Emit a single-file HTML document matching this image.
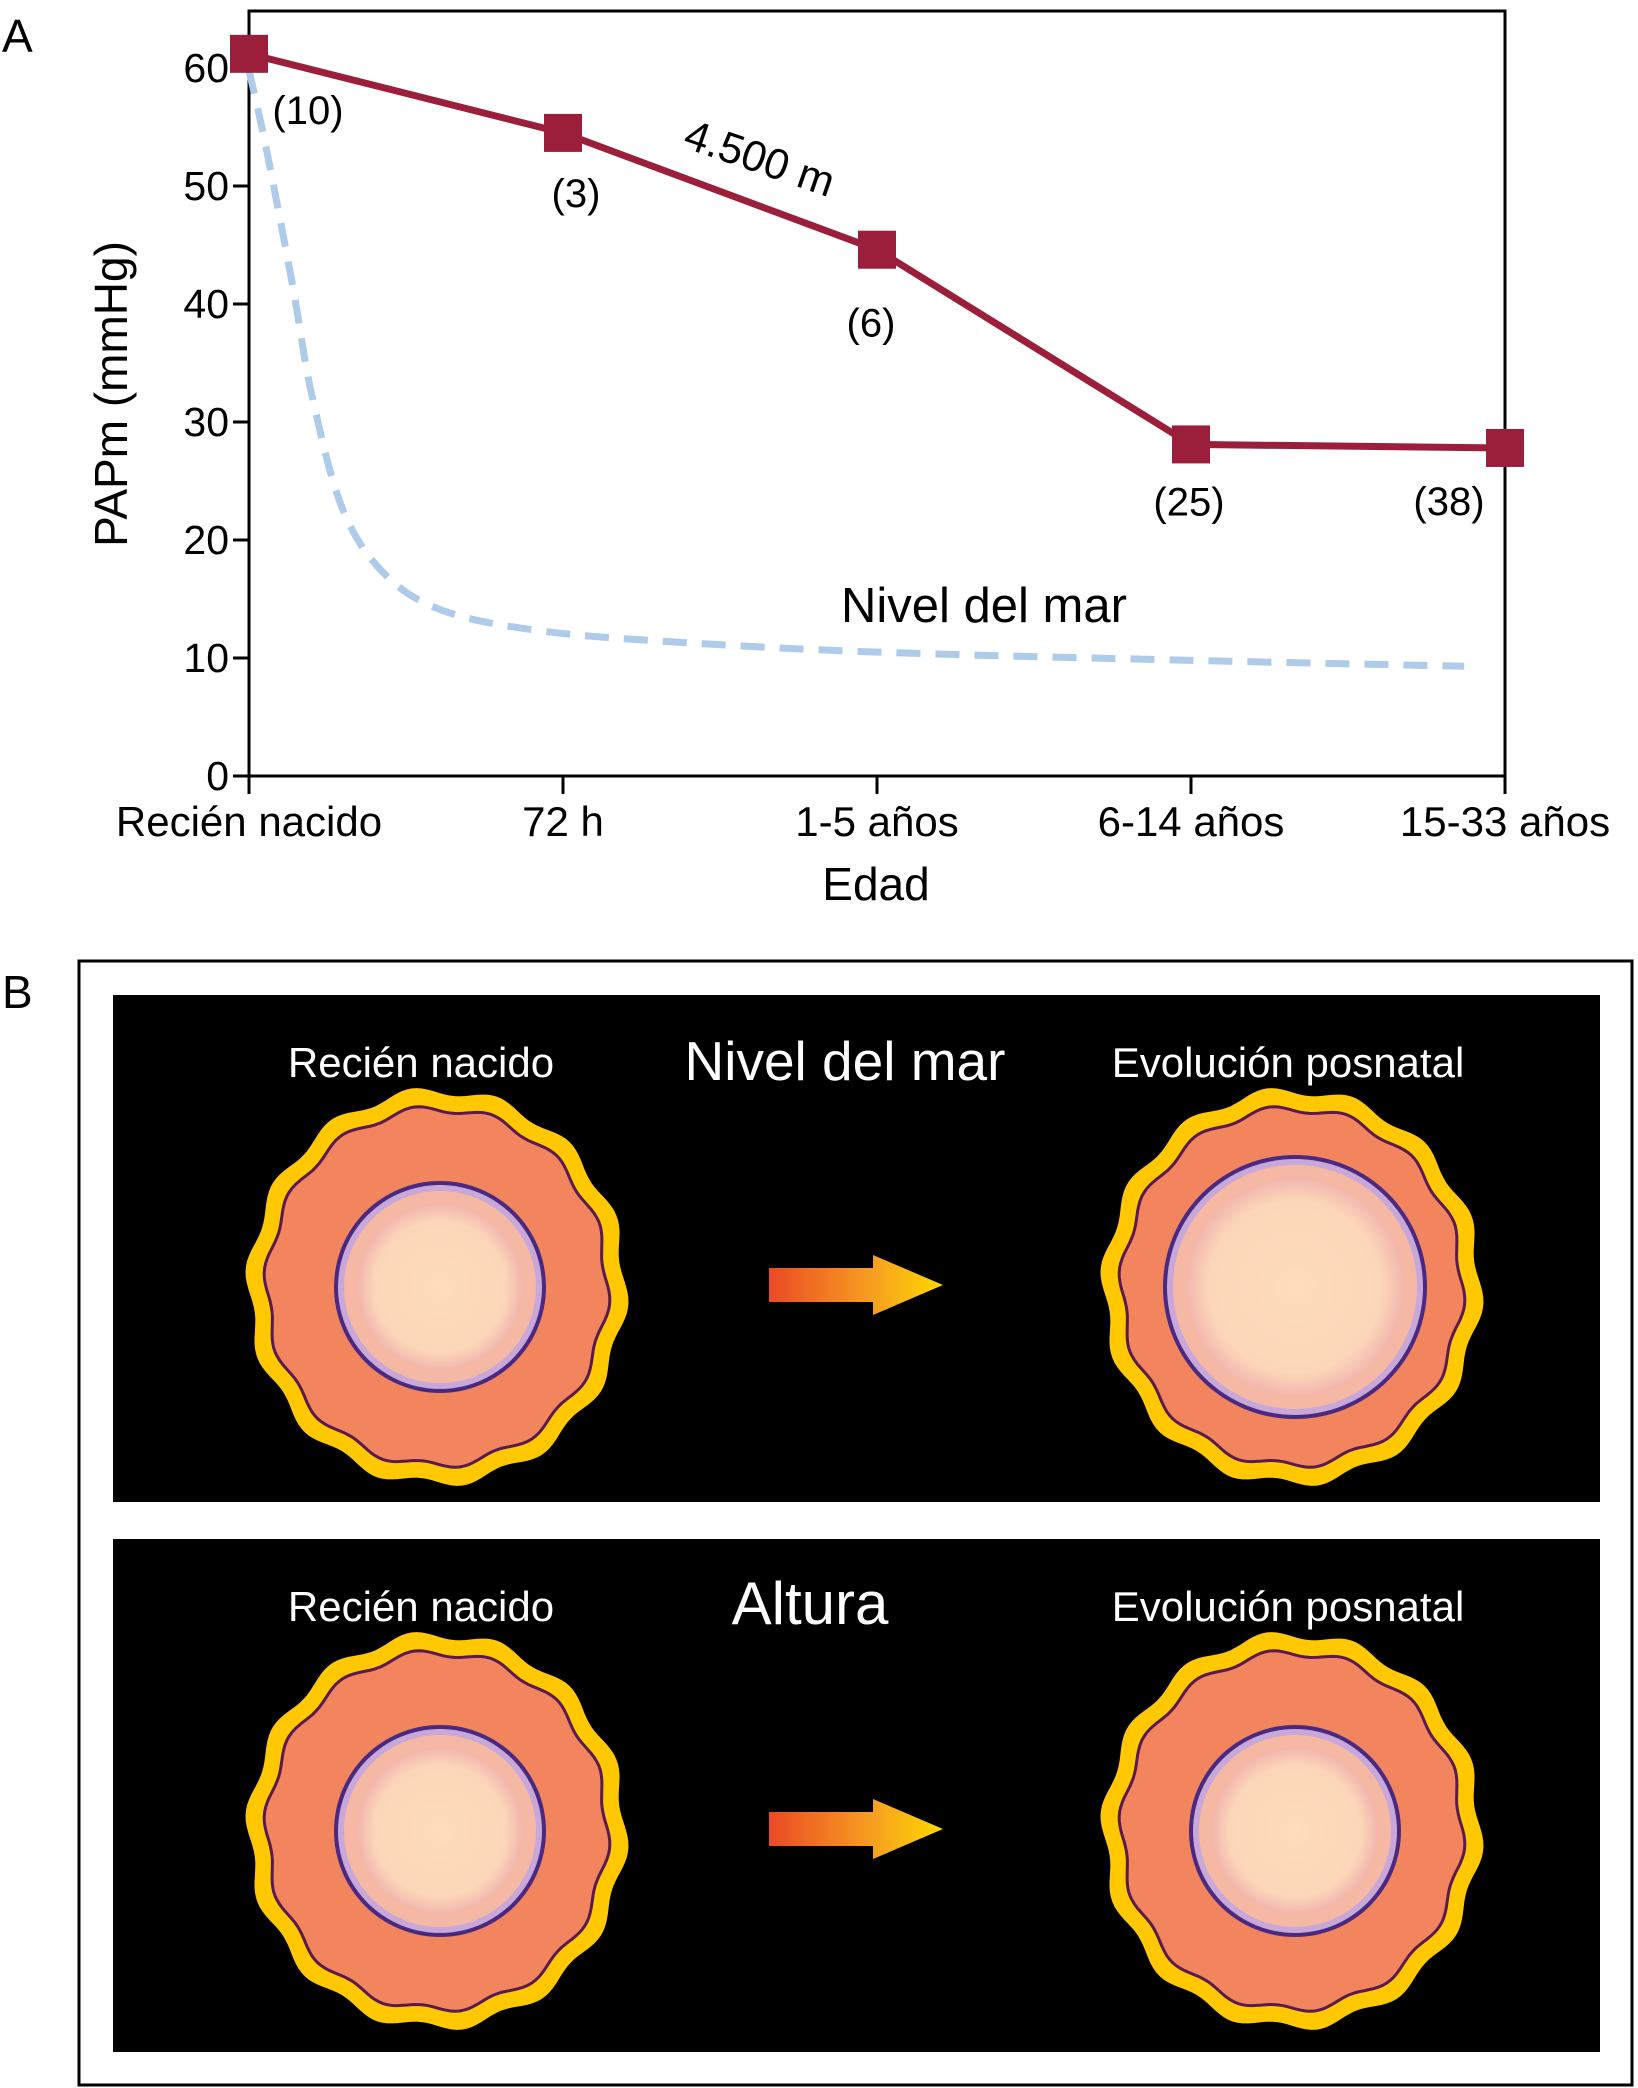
<!DOCTYPE html>
<html><head><meta charset="utf-8">
<style>
html,body{margin:0;padding:0;background:#fff;}
svg{display:block;}
text{font-family:"Liberation Sans",Arial,sans-serif;}
</style></head>
<body>
<svg id="fig" width="1638" height="2088" viewBox="0 0 1638 2088" xmlns="http://www.w3.org/2000/svg">
<defs>
<linearGradient id="arrowGrad" x1="0" x2="1" y1="0" y2="0">
<stop offset="0" stop-color="#ea4a24"/><stop offset="0.6" stop-color="#f7a020"/><stop offset="1" stop-color="#ffd800"/>
</linearGradient>
<radialGradient id="lumenGrad" cx="0.5" cy="0.5" r="0.5">
<stop offset="0" stop-color="#fedcbc"/><stop offset="0.8" stop-color="#fcd6b8"/><stop offset="1" stop-color="#f2b8b0"/>
</radialGradient>
</defs>
<text x="2" y="52" font-size="46">A</text>
<g id="chart"></g>
<text x="2" y="1008" font-size="46">B</text>
<rect x="79" y="961" width="1553" height="1124" fill="none" stroke="#000" stroke-width="3"/>
<g id="panelB"></g>
</svg>
<script>
// ---- Chart data ----
const categories = ["Recién nacido","72 h","1-5 años","6-14 años","15-33 años"];
const altitudeValues = [61.2, 54.5, 44.6, 28.1, 27.8];
const sampleSizes = ["(10)","(3)","(6)","(25)","(38)"];
const seaLevelX = [0, 0.054, 0.14, 0.2, 0.30, 0.44, 0.63, 0.93, 1.33, 2.0, 3.0, 3.87];
const seaLevelValues = [59.8, 53.3, 41.4, 32.3, 22.5, 16.9, 13.9, 12.3, 11.4, 10.5, 9.8, 9.3];
const yTicks = [0,10,20,30,40,50,60];

const NS="http://www.w3.org/2000/svg";
function mk(tag, attrs, parent, txt){
  const e=document.createElementNS(NS,tag);
  for(const k in attrs) e.setAttribute(k, attrs[k]);
  if(txt!==undefined) e.textContent=txt;
  parent.appendChild(e); return e;
}
const L=249, R=1505, T=11, B=776;
const xS = i => L + (R-L)*i/(categories.length-1);
const yS = v => B - (B-68)*v/60;
const g=document.getElementById('chart');

let e=mk('rect',{x:L,y:T,width:R-L,height:B-T,fill:'none',stroke:'#000','stroke-width':3},g);



yTicks.forEach(v=>{
  let t=mk('line',{x1:L-16,x2:L,y1:yS(v),y2:yS(v),stroke:'#000','stroke-width':3},g);
  
  
  let l=mk('text',{x:L-20,y:yS(v)+14,'font-size':41,'text-anchor':'end'},g,String(v));
  
  
});
categories.forEach((c,i)=>{
  let t=mk('line',{x1:xS(i),x2:xS(i),y1:B,y2:B+18,stroke:'#000','stroke-width':3},g);
  
  
  let l=mk('text',{x:xS(i),y:836,'font-size':42,'text-anchor':'middle'},g,c);
  
  
});
e=mk('text',{x:876,y:900,'font-size':46,'text-anchor':'middle'},g,'Edad');


e=mk('text',{x:0,y:0,'font-size':46,'text-anchor':'middle',transform:'translate(127,394) rotate(-90)'},g,'PAPm (mmHg)');



const pts=seaLevelX.map((x,i)=>[xS(x),yS(seaLevelValues[i])]);
let d='M'+pts[0][0]+','+pts[0][1];
for(let i=0;i<pts.length-1;i++){
  const p0=pts[Math.max(0,i-1)],p1=pts[i],p2=pts[i+1],p3=pts[Math.min(pts.length-1,i+2)];
  const c1=[p1[0]+(p2[0]-p0[0])/6,p1[1]+(p2[1]-p0[1])/6];
  const c2=[p2[0]-(p3[0]-p1[0])/6,p2[1]-(p3[1]-p1[1])/6];
  d+=` C${c1[0]},${c1[1]} ${c2[0]},${c2[1]} ${p2[0]},${p2[1]}`;
}
e=mk('path',{d:d,fill:'none',stroke:'#aecbe9','stroke-width':7,'stroke-dasharray':'24 15'},g);


e=mk('text',{x:984,y:622,'font-size':49,'text-anchor':'middle'},g,'Nivel del mar');



e=mk('polyline',{points:altitudeValues.map((v,i)=>xS(i)+','+yS(v)).join(' '),fill:'none',stroke:'#9b1f3a','stroke-width':7},g);


const labOff=[[59,70],[13,74],[-6,87],[-2,71],[-56,67]];
altitudeValues.forEach((v,i)=>{
  let m=mk('rect',{x:xS(i)-19,y:yS(v)-19,width:38,height:38,fill:'#9b1f3a'},g);
  
  
  let l=mk('text',{x:xS(i)+labOff[i][0],y:yS(v)+labOff[i][1],'font-size':40,'text-anchor':'middle'},g,sampleSizes[i]);
  
  
});
e=mk('text',{x:0,y:0,'font-size':43,'text-anchor':'middle',transform:'translate(755,172) rotate(19)'},g,'4.500 m');



// ---- Panel B ----
const pb=document.getElementById('panelB');
function wavy(cx,cy,rx,ry,amp,n,ph){
  let s='';
  for(let k=0;k<=240;k++){
    const a=k/240*Math.PI*2;
    const f=1+amp*Math.sin(n*a+ph);
    const x=cx+rx*f*Math.cos(a), y=cy+ry*f*Math.sin(a);
    s+=(k?'L':'M')+x.toFixed(1)+','+y.toFixed(1);
  }
  return s+'Z';
}
function vessel(cx,cy,ri){
  const gg=mk('g',{},pb);
  
  
  mk('path',{d:wavy(cx,cy,188,196,0.022,14,0.3),fill:'#ffc800'},gg);
  mk('path',{d:wavy(cx,cy,170,178,0.02,14,0.3),fill:'#f2845e',stroke:'#5a1a50','stroke-width':3},gg);
  mk('circle',{cx:cx+3,cy:cy,r:ri+4,fill:'#4a2a80'},gg);
  mk('circle',{cx:cx+3,cy:cy,r:ri,fill:'#c8a8d8'},gg);
  mk('circle',{cx:cx+3,cy:cy,r:ri-6,fill:'#f4b8a4'},gg);
  mk('circle',{cx:cx+3,cy:cy,r:ri-20,fill:'url(#lumenGrad)'},gg);
}
function arrow(x,y){
  const a=mk('path',{d:`M${x},${y-17} L${x+104},${y-17} L${x+104},${y-30} L${x+174},${y} L${x+104},${y+30} L${x+104},${y+17} L${x},${y+17}Z`,fill:'url(#arrowGrad)'},pb);
  
  
}
const panels=[{y:995,title:'Nivel del mar',ri:[102,128],tfs:55,tx:845},{y:1539,title:'Altura',ri:[102,102],tfs:60,tx:810}];
panels.forEach(p=>{
  let r=mk('rect',{x:113,y:p.y,width:1487,height:p.y===995?507:513,fill:'#000'},pb);
  
  
  const ty=p.y+82;
  let t=mk('text',{x:421,y:ty,'font-size':42,fill:'#fff','text-anchor':'middle'},pb,'Recién nacido');
  
  
  t=mk('text',{x:p.tx,y:ty+3,'font-size':p.tfs,fill:'#fff','text-anchor':'middle'},pb,p.title);
  
  
  t=mk('text',{x:1288,y:ty,'font-size':42,fill:'#fff','text-anchor':'middle'},pb,'Evolución posnatal');
  
  
  const cy=p.y+292;
  vessel(437,cy,p.ri[0]);
  vessel(1292,cy,p.ri[1]);
  arrow(769,cy-2);
});
</script>
</body></html>
